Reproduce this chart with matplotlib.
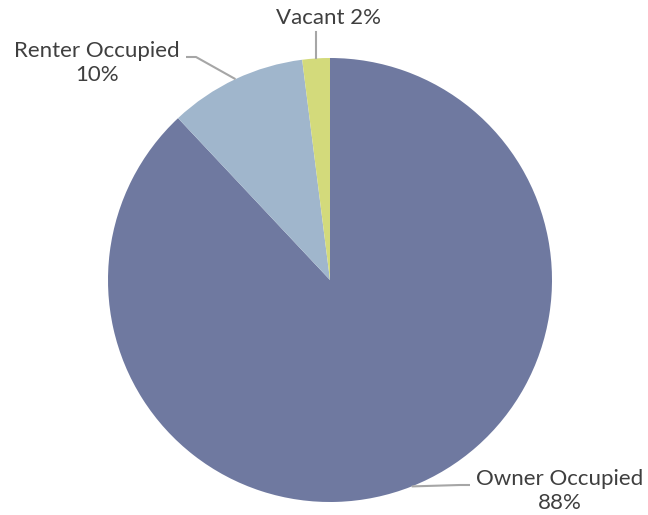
import matplotlib

matplotlib.use("Agg")

import matplotlib.pyplot as plt
import numpy as np

categories = ["Owner Occupied", "Renter Occupied", "Vacant"]
shares = [88, 10, 2]
label_texts = ["Owner Occupied\n88%", "Renter Occupied\n10%", "Vacant 2%"]
colors = ["#6F79A0", "#A0B6CC", "#D3DA7B"]

W, H = 648, 515
cx, cy, r = 330, H - 280, 222

fig = plt.figure(figsize=(W / 100, H / 100), dpi=100)
ax = fig.add_axes([0, 0, 1, 1])

wedges, _ = ax.pie(
    shares,
    colors=colors,
    startangle=90,
    counterclock=False,
    center=(cx, cy),
    radius=r,
    frame=True,
)
ax.set_xlim(0, W)
ax.set_ylim(0, H)
ax.set_aspect("equal")
ax.axis("off")

# text centre and elbow of each leader line
text_pos = [(560, H - 491), (97, H - 63), (328, H - 18)]
elbow = [(460, None), (196, None), (None, H - 32)]
text_color = "#3F3F3F"
line_color = "#A6A6A6"

for w, txt, (tx, ty), el in zip(wedges, label_texts, text_pos, elbow):
    ang = np.deg2rad((w.theta1 + w.theta2) / 2)
    ex, ey = cx + r * np.cos(ang), cy + r * np.sin(ang)
    if el[0] is not None:
        ly = ty + 6
        end_x = el[0] + 10 if el[0] < tx else el[0] - 10
        ax.plot([ex, el[0], end_x], [ey, ly, ly], color=line_color, lw=1.5,
                solid_capstyle="butt")
    else:
        ax.plot([ex, ex], [ey, el[1]], color=line_color, lw=1.5)
    ax.text(tx, ty, txt, ha="center", va="center", fontsize=16,
            family="Lato", color=text_color, linespacing=1.25)

fig.savefig("out.png", dpi=100)
